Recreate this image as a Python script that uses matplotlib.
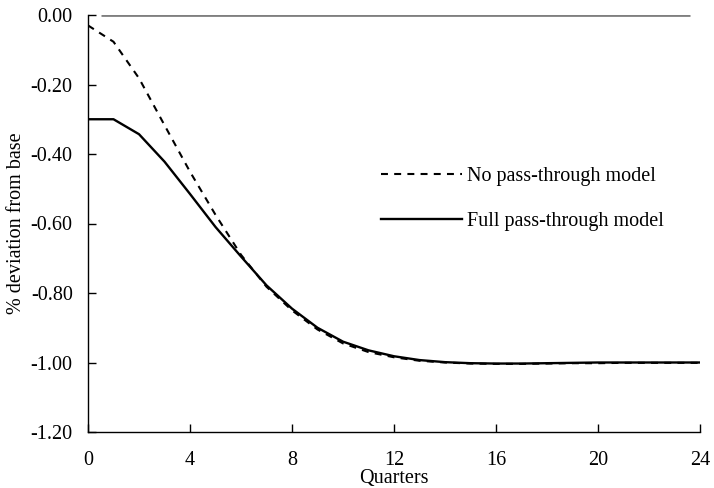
import numpy as np
import matplotlib
matplotlib.use("Agg")
import matplotlib.pyplot as plt
from matplotlib.ticker import FormatStrFormatter

plt.rcParams['font.family'] = ['Liberation Serif', 'DejaVu Serif']
plt.rcParams['axes.unicode_minus'] = False
plt.rcParams['lines.scale_dashes'] = False

quarters = list(range(25))
no_pass = [-0.03, -0.077, -0.182, -0.317, -0.451, -0.575, -0.69, -0.782, -0.85,
           -0.905, -0.945, -0.970, -0.985, -0.995, -1.000, -1.003, -1.004, -1.004,
           -1.003, -1.002, -1.002, -1.001, -1.001, -1.001, -1.001]
full_pass = [-0.30, -0.30, -0.343, -0.422, -0.515, -0.61, -0.695, -0.778, -0.845,
             -0.90, -0.94, -0.965, -0.982, -0.993, -0.999, -1.002, -1.003, -1.003,
             -1.002, -1.001, -1.000, -1.000, -1.000, -1.000, -1.000]
xticks = [0, 4, 8, 12, 16, 20, 24]
yticks = [0.0, -0.2, -0.4, -0.6, -0.8, -1.0, -1.2]

fig = plt.figure(figsize=(7.14, 4.88), dpi=100)
ax = fig.add_axes([88 / 714, 1 - 432 / 488, 612 / 714, 417 / 488])

# zero line
ax.hlines(0, 0.5, 23.6, color='#7f7f7f', lw=2.0)

ax.plot(quarters, no_pass, color='black', lw=1.5, dashes=(5, 4.5),
        label='No pass-through model')
ax.plot(quarters, full_pass, color='black', lw=1.7, label='Full pass-through model')

ax.set_xlim(0, 24)
ax.set_ylim(-1.2, 0.0)
ax.set_xticks(xticks)
ax.set_yticks(yticks)
ax.yaxis.set_major_formatter(FormatStrFormatter('%.2f'))

for s in ['top', 'right']:
    ax.spines[s].set_visible(False)
for s in ['left', 'bottom']:
    ax.spines[s].set_linewidth(1.0)

ax.tick_params(axis='x', direction='in', length=6, width=1, pad=14, labelsize=14.5)
ax.tick_params(axis='y', direction='in', length=6, width=1, pad=11, labelsize=14.5)
for sp in ax.spines.values():
    sp.set_clip_on(False)

ax.set_xlabel('Quarters', fontsize=14.5, labelpad=-1)
ax.set_ylabel('% deviation from base', fontsize=14.5)
ax.yaxis.set_label_coords(-0.102, 0.5)

ax.legend(loc='center left', bbox_to_anchor=(381 / 714, 1 - 199 / 488),
          bbox_transform=fig.transFigure, frameon=False, fontsize=14.5,
          handlelength=4.0, handletextpad=0.25, labelspacing=1.25,
          borderpad=0, borderaxespad=0)

fig.savefig('out.png', dpi=100)
